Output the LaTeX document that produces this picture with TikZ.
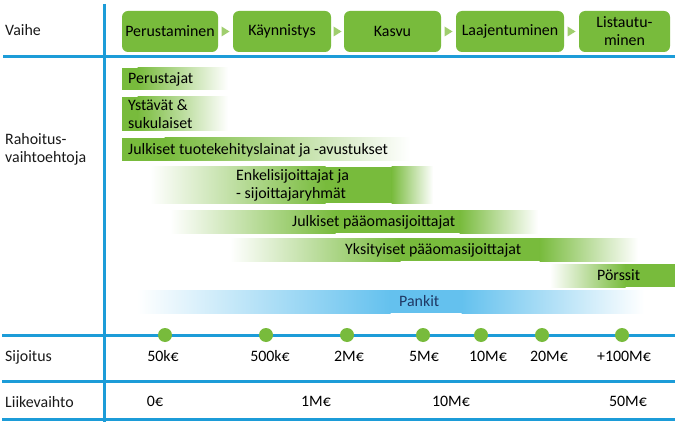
\documentclass[tikz,border=0pt]{standalone}
\usepackage{fontspec}
\setmainfont{Carlito}
\usetikzlibrary{calc}
\definecolor{gr}{RGB}{120,187,60}
\definecolor{ltgr}{RGB}{160,206,110}
\definecolor{bl}{RGB}{28,156,216}
\definecolor{sky}{RGB}{100,193,238}
\definecolor{navy}{RGB}{31,56,100}
% #1 x white, #2 x full start, #3 x full end, #4 x white end, #5 top, #6 bottom, #7 colour
\newcommand{\mybar}[7]{%
  \ifdim #1pt<#2pt \shade[left color=white,right color=#7] (#1,#5) rectangle (#2+0.5,#6);\fi
  \fill[#7] (#2,#5) rectangle (#3,#6);
  \ifdim #3pt<#4pt \shade[left color=#7,right color=white] (#3-0.5,#5) rectangle (#4,#6);\fi
}
\begin{document}
\begin{tikzpicture}[x=1pt,y=-1pt,
  font=\fontsize{15.9}{18}\selectfont,
  grid/.style={draw=bl, line width=3pt},
  phase/.style={fill=gr, rounded corners=6pt, minimum height=41pt, inner sep=2pt, align=center, text=black},
  tri/.style={fill=ltgr},
  lbl/.style={anchor=west, inner sep=0pt, align=left, text=black!90},
  one/.style={text height=10pt, text depth=0pt},
  bartext/.style={anchor=west, inner sep=0pt, align=left, text=black},
  dot/.style={circle, fill=gr, minimum size=14pt, inner sep=0pt},
  val/.style={inner sep=0pt, text height=10pt, text depth=0pt, text=black}]
\useasboundingbox (0,0) rectangle (682,422);
\fill[white] (0,0) rectangle (682,422);

% grid
\draw[grid] (3,57) -- (675,57);
\draw[grid] (2,335) -- (675,335);
\draw[grid] (2,381) -- (675,381);
\draw[grid] (2,419) -- (675,419);
\draw[grid] (104,4) -- (104,422);

% row labels
\node[lbl,one] (lv) at (5,31) {Vaihe};
\node[lbl] (lr) at (5,149) {Rahoitus-\\vaihtoehtoja};
\node[lbl,one] (ls) at (5,356) {Sijoitus};
\node[lbl,one] (ll) at (5,402) {Liikevaihto};

% phases
\node[phase, minimum width=96pt] (p1) at (170,31.5) {Perustaminen};
\node[phase, minimum width=98pt] (p2) at (282,31.5) {Käynnistys};
\node[phase, minimum width=97pt] (p3) at (392.5,31.5) {Kasvu};
\node[phase, minimum width=108pt] (p4) at (510,31.5) {Laajentuminen};
\node[phase, minimum width=91pt] (p5) at (624.5,31.5) {Listautu-\\minen};
\foreach \a/\b in {p1/p2,p2/p3,p3/p4,p4/p5}{
  \coordinate (m) at ($(\a.east)!0.5!(\b.west)$);
  \fill[tri] ($(m)+(-4,-5)$) -- ($(m)+(4,0)$) -- ($(m)+(-4,5)$) -- cycle;
}

% financing bars
\mybar{122}{122}{138}{228}{68}{90}{gr}
\mybar{122}{122}{138}{228}{97}{131}{gr}
\mybar{122}{122}{165}{410}{138}{161}{gr}
\mybar{150}{325}{392}{433}{167}{203}{gr}
\mybar{170}{335}{460}{538}{210}{233}{gr}
\mybar{230}{400}{540}{638}{238}{261}{gr}
\mybar{550}{625}{675}{675}{264}{287}{gr}
\mybar{137}{390}{462}{644}{290}{313}{sky}

\node[bartext,one] (b1) at (128,79) {Perustajat};
\node[bartext] (b2) at (128,114) {Ystävät \&\\sukulaiset};
\node[bartext,one] (b3) at (128,149.5) {Julkiset tuotekehityslainat ja -avustukset};
\node[bartext] (b4) at (236,185) {Enkelisijoittajat ja\\- sijoittajaryhmät};
\node[bartext,one] (b5) at (292,221.5) {Julkiset pääomasijoittajat};
\node[bartext,one] (b6) at (345,249.5) {Yksityiset pääomasijoittajat};
\node[bartext,one] (b7) at (597,275.5) {Pörssit};
\node[bartext,one,text=navy] (b8) at (399,301.5) {Pankit};

% investment dots and values
\foreach \n/\x/\tx/\t in {1/165/163/50k€, 2/266/270/500k€, 3/347/349/2M€, 4/423/424/5M€, 5/481/488/10M€, 6/542/549/20M€, 7/622/624/+100M€}{
  \node[dot] (d\n) at (\x,335) {};
  \node[val] (s\n) at (\tx,356) {\t};
}
\node[val] (r1) at (155,401) {0€};
\node[val] (r2) at (316,401) {1M€};
\node[val] (r3) at (451,401) {10M€};
\node[val] (r4) at (628,401) {50M€};
\end{tikzpicture}
\end{document}
